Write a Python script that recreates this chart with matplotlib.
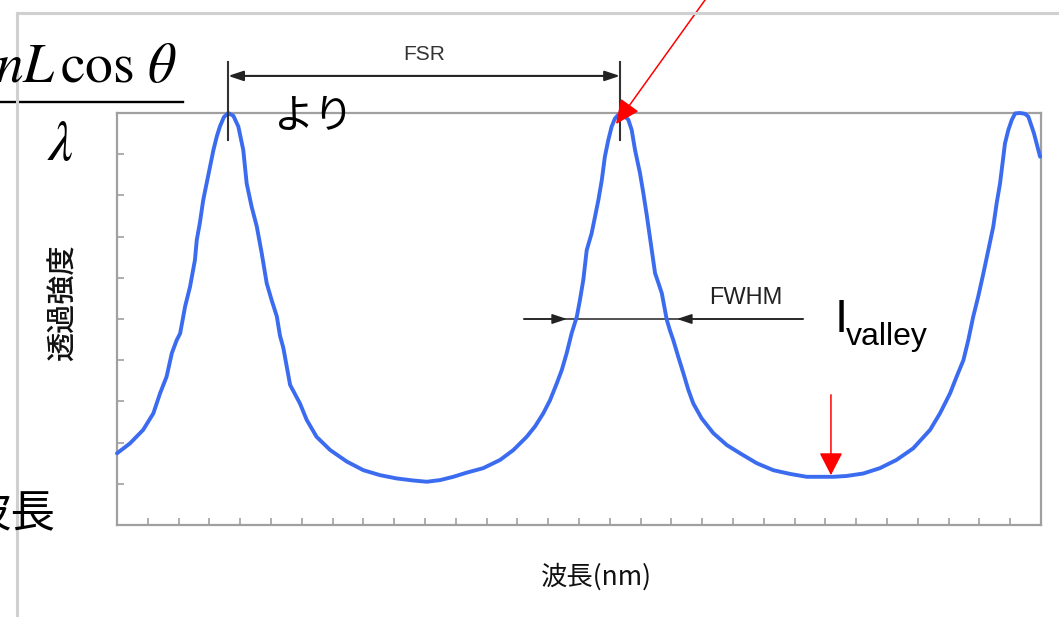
import matplotlib
matplotlib.use('Agg')
import matplotlib.pyplot as plt
from matplotlib.lines import Line2D

plt.rcParams['font.family'] = ['Noto Sans CJK JP', 'DejaVu Sans']

# transmission spectrum (x in minor-tick units, y in tenths of full scale)
wl = [0.00, 0.42, 0.85, 1.18, 1.40, 1.61, 1.78, 1.94, 2.05, 2.21, 2.37, 2.53,
      2.59, 2.69, 2.80, 2.91, 3.02, 3.13, 3.24, 3.34, 3.47, 3.61, 3.78, 3.94,
      4.10, 4.21, 4.37, 4.54, 4.70, 4.86, 5.02, 5.19, 5.29, 5.40, 5.51, 5.62,
      5.94, 6.16, 6.48, 6.92, 7.46, 8.00, 8.54, 9.08, 9.62, 10.06, 10.49, 10.92,
      11.35, 11.89, 12.44, 12.87, 13.30, 13.57, 13.84, 14.06, 14.28, 14.44,
      14.60, 14.76, 14.93, 15.03, 15.14, 15.19, 15.25, 15.41, 15.52, 15.63,
      15.74, 15.84, 15.95, 16.06, 16.17, 16.33, 16.49, 16.60, 16.71, 16.82,
      16.98, 17.09, 17.20, 17.31, 17.47, 17.58, 17.69, 17.85, 17.95, 18.06,
      18.22, 18.39, 18.55, 18.71, 18.98, 19.36, 19.80, 20.23, 20.77, 21.31,
      21.85, 22.39, 23.26, 23.69, 24.23, 24.77, 25.31, 25.85, 26.40, 26.72,
      27.05, 27.26, 27.48, 27.64, 27.80, 27.96, 28.13, 28.29, 28.45, 28.56,
      28.67, 28.83, 28.94, 29.05, 29.16, 29.32, 29.48, 29.59, 29.77, 29.97]
trans = [1.74, 1.98, 2.31, 2.71, 3.20, 3.60, 4.17, 4.49, 4.65, 5.30, 5.78, 6.43,
         6.92, 7.33, 7.89, 8.29, 8.70, 9.10, 9.43, 9.67, 9.90, 10.00, 9.93, 9.67,
         9.10, 8.29, 7.73, 7.24, 6.59, 5.87, 5.46, 5.06, 4.60, 4.30, 3.85, 3.40,
         2.95, 2.55, 2.14, 1.82, 1.54, 1.33, 1.21, 1.13, 1.08, 1.05, 1.09, 1.17,
         1.27, 1.38, 1.58, 1.82, 2.14, 2.39, 2.71, 3.03, 3.44, 3.76,
         4.17, 4.65, 5.06, 5.46, 5.95, 6.27, 6.67, 7.08, 7.48, 7.89,
         8.37, 8.94, 9.34, 9.67, 9.87, 10.00, 9.91, 9.84, 9.59, 9.10,
         8.54, 8.05, 7.52, 6.95, 6.11, 5.87, 5.62, 4.98, 4.73, 4.49,
         4.09, 3.68, 3.28, 2.95, 2.59, 2.23, 1.94, 1.74, 1.50, 1.33,
         1.24, 1.17, 1.17, 1.19, 1.25, 1.38, 1.58, 1.86, 2.31, 2.71,
         3.20, 3.60, 4.00, 4.49, 5.06, 5.54, 6.11, 6.67, 7.24, 7.81,
         8.29, 9.26, 9.59, 9.83, 9.99, 10.00, 9.98, 9.91, 9.51, 8.94]

x_ticks = list(range(1, 30))
y_ticks = list(range(1, 10))

W, H = 1059, 617


def px(x, y):
    # pixel position -> figure fraction
    return x / W, 1 - y / H


fig = plt.figure(figsize=(W / 100, H / 100), dpi=100)
ax = fig.add_axes([117 / W, 1 - 525 / H, 924 / W, 412 / H])

ax.plot(wl, trans, color='#3b6cf0', lw=2.8, solid_joinstyle='round',
        solid_capstyle='round', clip_on=False, zorder=3)
ax.set_xlim(0, 30)
ax.set_ylim(0, 10)
ax.set_xticks(x_ticks)
ax.set_yticks(y_ticks)
ax.tick_params(direction='in', length=5, width=1.2, color='#a0a0a0',
               labelbottom=False, labelleft=False)
for s in ax.spines.values():
    s.set_color('#a0a0a0')
    s.set_linewidth(1.6)

peaks = [w for w, t in zip(wl, trans) if t >= 10.0]
p1, p2 = peaks[0], peaks[1]

# FSR marker between the first two peaks
for p in (p1, p2):
    ax.plot([p, p], [9.34, 11.24], color='#333333', lw=1.5, clip_on=False, zorder=4)
ax.annotate('', xy=(p1, 10.9), xytext=(p2, 10.9), annotation_clip=False,
            arrowprops=dict(arrowstyle='<|-|>,head_length=0.9,head_width=0.3',
                            color='#222222', lw=1.5, shrinkA=0, shrinkB=0))
ax.text((p1 + p2) / 2, 11.41, 'FSR', ha='center', va='center', fontsize=15,
        family='Liberation Sans', color='#333333')

# FWHM marker at half maximum
half = max(trans) / 2
ax.plot([13.22, 22.27], [half, half], color='#222222', lw=1.1, zorder=2)
ax.annotate('', xy=(14.61, half), xytext=(13.22, half),
            arrowprops=dict(arrowstyle='-|>,head_length=0.9,head_width=0.3',
                            color='#222222', lw=1.1, shrinkA=0, shrinkB=0))
ax.annotate('', xy=(18.18, half), xytext=(22.27, half),
            arrowprops=dict(arrowstyle='-|>,head_length=0.9,head_width=0.3',
                            color='#222222', lw=1.1, shrinkA=0, shrinkB=0))
ax.text(20.4, 5.51, 'FWHM', ha='center', va='center', fontsize=17,
        family='Liberation Sans', color='#222222')

# red pointers: peak and valley
ax.annotate('', xy=(p2 - 0.13, 9.73), xytext=(19.79, 13.47), annotation_clip=False,
            arrowprops=dict(arrowstyle='-|>,head_length=0.75,head_width=0.34',
                            color='red', lw=1.1, shrinkA=0, shrinkB=0,
                            mutation_scale=20), zorder=5)
valley = min(t for w, t in zip(wl, trans) if p2 < w < peaks[2])
ax.annotate('', xy=(23.18, valley + 0.04), xytext=(23.18, 3.16),
            arrowprops=dict(arrowstyle='-|>,head_length=0.7,head_width=0.36',
                            color='red', lw=1.1, shrinkA=0, shrinkB=0,
                            mutation_scale=20), zorder=5)

fig.text(*px(835, 332), 'I', fontsize=34, family='Liberation Sans',
         ha='left', va='baseline')
fig.text(*px(846, 345), 'valley', fontsize=23, family='Liberation Sans',
         ha='left', va='baseline')

# axis labels
fig.text(*px(63, 303), '透過強度', rotation=90, fontsize=21, ha='center',
         va='center', color='#111111', fontweight='medium')
fig.text(*px(596, 577), '波長(nm)', fontsize=19, ha='center', va='center',
         color='#111111')

# formula fragment and notes
fig.text(*px(177, 82), r'$nL\,\cos\,\theta$', ha='right', va='baseline',
         fontsize=40, math_fontfamily='stix')
fig.add_artist(Line2D([0, 183 / W], [1 - 102 / H] * 2, color='black', lw=1.7,
                      transform=fig.transFigure))
fig.text(*px(60, 160), r'$\lambda$', ha='center', va='baseline', fontsize=40,
         math_fontfamily='stix')
fig.text(*px(314, 117), 'より', fontsize=29, ha='center', va='center')
fig.text(*px(55, 514), '波長', fontsize=32, ha='right', va='center')

# slide frame
fig.add_artist(Line2D([17 / W, 1], [1 - 13 / H] * 2, color='#d0d0d0', lw=2.2,
                      transform=fig.transFigure))
fig.add_artist(Line2D([17 / W] * 2, [1 - 13 / H, 0], color='#d0d0d0', lw=2.2,
                      transform=fig.transFigure))

fig.savefig('out.png', dpi=100)
